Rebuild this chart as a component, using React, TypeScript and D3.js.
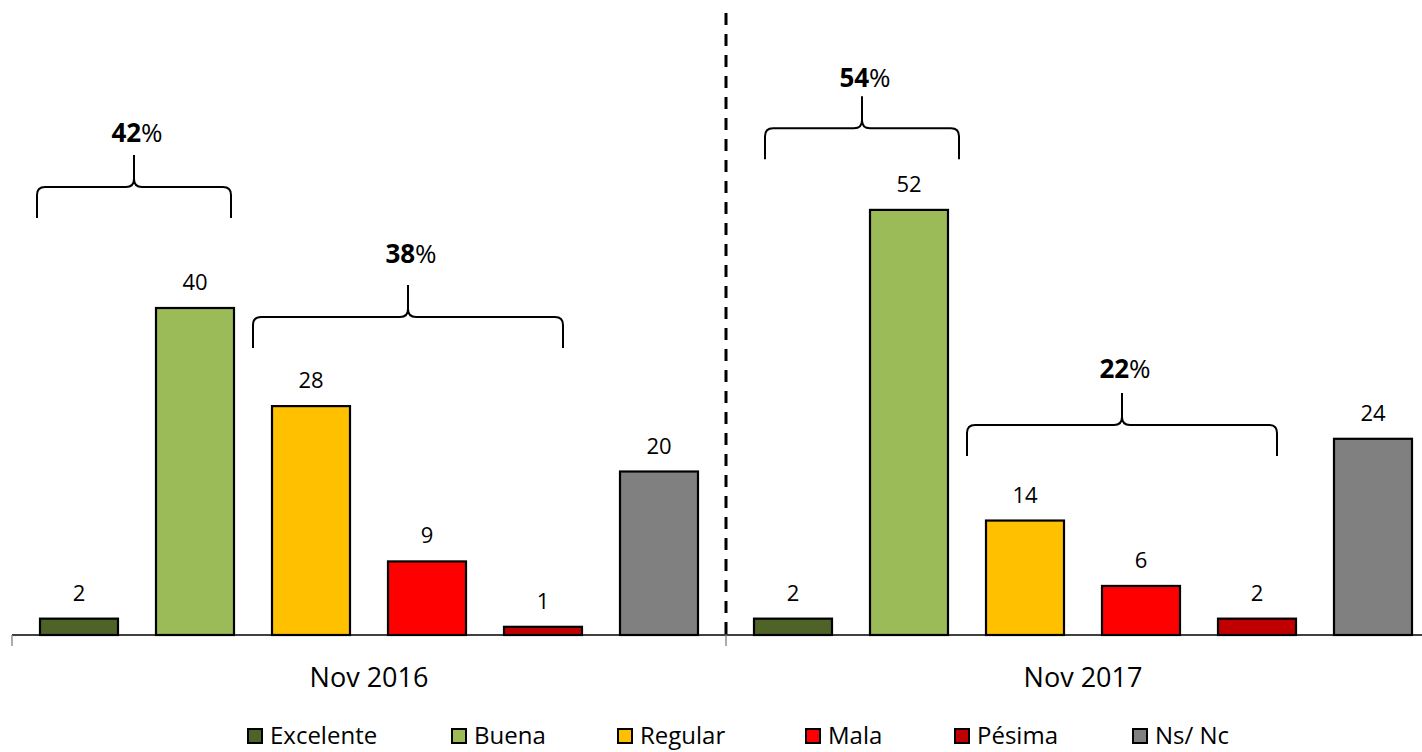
import React from 'react';
import * as d3 from 'd3';

// Data
const groups: string[] = ['Nov 2016', 'Nov 2017'];
const categories: string[] = ['Excelente', 'Buena', 'Regular', 'Mala', 'Pésima', 'Ns/ Nc'];
const values2016: number[] = [2, 40, 28, 9, 1, 20];
const values2017: number[] = [2, 52, 14, 6, 2, 24];
const colors: string[] = ['#4F6228', '#9BBB59', '#FFC000', '#FF0000', '#C00000', '#808080'];

// Brace annotations: group, first/last category, bold number, level (in value units)
const braceGroups: string[] = ['Nov 2016', 'Nov 2016', 'Nov 2017', 'Nov 2017'];
const braceFrom: string[] = ['Excelente', 'Regular', 'Excelente', 'Regular'];
const braceTo: string[] = ['Buena', 'Pésima', 'Buena', 'Pésima'];
const braceLabels: string[] = ['42', '38', '54', '22'];
const braceLevels: number[] = [54.8, 38.9, 62, 25.7];

// layout nudges (pixels), hand placed in the original
const braceNudge: number[] = [-3, -19, 11, -19];
const braceLabelLift: number[] = [0, 9, -4, 2];
const legendSwatchX: number[] = [248, 452, 618, 806, 955, 1133];

const FONT = '"Open Sans", "Noto Sans", sans-serif';
const W = 1422;
const H = 752;

const App: React.FC = () => {
    const baseY = 635;
    const x0 = d3.scaleBand<string>().domain(groups).range([12, 1440]);
    const x1 = d3.scaleBand<string>()
        .domain(categories)
        .range([0, x0.bandwidth()])
        .paddingInner(0.3276)
        .paddingOuter(0.2414);
    const y = d3.scaleLinear().domain([0, 60]).range([baseY, 144.5]);

    const seriesByGroup: number[][] = [values2016, values2017];
    const bw = x1.bandwidth();

    const bracePath = (xa: number, xb: number, yh: number) => {
        const r = 8;
        const xm = (xa + xb) / 2;
        const up = 32;
        const down = 31;
        return [
            `M${xa},${yh + down}`,
            `L${xa},${yh + r}`,
            `Q${xa},${yh} ${xa + r},${yh}`,
            `L${xm - r},${yh}`,
            `Q${xm},${yh} ${xm},${yh - r}`,
            `L${xm},${yh - up}`,
            `M${xm},${yh - r}`,
            `Q${xm},${yh} ${xm + r},${yh}`,
            `L${xb - r},${yh}`,
            `Q${xb},${yh} ${xb},${yh + r}`,
            `L${xb},${yh + down}`,
        ].join(' ');
    };

    return (
        <div style={{ position: 'absolute', left: 0, top: 0, width: W, height: H, background: '#fff' }}>
            <svg width={W} height={H} style={{ display: 'block', fontFamily: FONT }}>
                {/* divider */}
                <line
                    x1={x0('Nov 2017')!}
                    x2={x0('Nov 2017')!}
                    y1={13}
                    y2={baseY}
                    stroke="#000"
                    strokeWidth={3}
                    strokeDasharray="12,9"
                />

                {/* bars */}
                {groups.map((g, gi) => (
                    <g key={g} transform={`translate(${x0(g)},0)`}>
                        {categories.map((c, ci) => {
                            const v = seriesByGroup[gi][ci];
                            const bx = x1(c)!;
                            return (
                                <g key={c}>
                                    <rect
                                        x={bx}
                                        y={y(v)}
                                        width={bw}
                                        height={baseY - y(v)}
                                        fill={colors[ci]}
                                        stroke="#000"
                                        strokeWidth={2.2}
                                    />
                                    <text
                                        x={bx + bw / 2}
                                        y={y(v) - 18}
                                        textAnchor="middle"
                                        fontSize={22}
                                        fill="#000"
                                    >
                                        {v}
                                    </text>
                                </g>
                            );
                        })}
                        <text
                            x={x0.bandwidth() / 2}
                            y={687}
                            textAnchor="middle"
                            fontSize={27}
                            fill="#000"
                        >
                            {g}
                        </text>
                    </g>
                ))}

                {/* axis */}
                <line x1={12} x2={W} y1={baseY} y2={baseY} stroke="#000" strokeWidth={1.3} />
                {groups.map((g) => (
                    <line
                        key={g}
                        x1={x0(g)!}
                        x2={x0(g)!}
                        y1={baseY}
                        y2={baseY + 11}
                        stroke="#808080"
                        strokeWidth={1.3}
                    />
                ))}

                {/* braces */}
                {braceLabels.map((lab, i) => {
                    const gx = x0(braceGroups[i])!;
                    const xa = gx + x1(braceFrom[i])! + braceNudge[i];
                    const xb = gx + x1(braceTo[i])! + bw + braceNudge[i];
                    const yh = y(braceLevels[i]);
                    return (
                        <g key={lab}>
                            <path d={bracePath(xa, xb, yh)} fill="none" stroke="#000" strokeWidth={2} />
                            <text
                                x={(xa + xb) / 2 + 3}
                                y={yh - 32 - 13 - braceLabelLift[i]}
                                textAnchor="middle"
                                fontSize={26}
                                fill="#000"
                            >
                                <tspan fontWeight="bold">{lab}</tspan>
                                <tspan>%</tspan>
                            </text>
                        </g>
                    );
                })}

                {/* legend */}
                {categories.map((c, ci) => (
                    <g key={'lg' + c} transform={`translate(${legendSwatchX[ci]},0)`}>
                        <rect x={0} y={729} width={14} height={14} fill={colors[ci]} stroke="#000" strokeWidth={2} />
                        <text x={22} y={744} fontSize={24} fill="#000">
                            {c}
                        </text>
                    </g>
                ))}
            </svg>
        </div>
    );
};

export default App;
